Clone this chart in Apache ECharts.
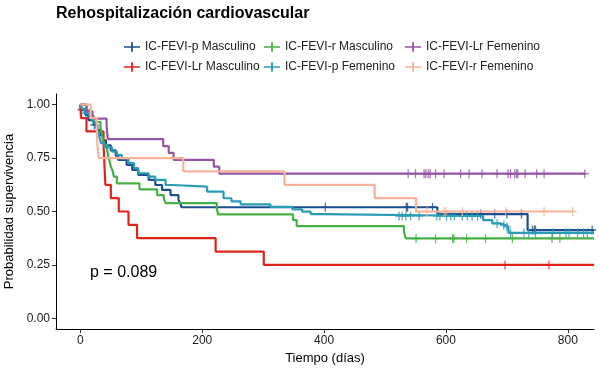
<!DOCTYPE html>
<html>
<head>
<meta charset="utf-8">
<script src="https://cdn.jsdelivr.net/npm/echarts@6/dist/echarts.min.js"></script>
<style>
html, body { margin: 0; padding: 0; background: #fff; }
#chart { width: 600px; height: 370px; }
</style>
</head>
<body>
<div id="chart"></div>
<script>
// curvas Kaplan-Meier: [tiempo (días), supervivencia]
var pMasc = [[0,1],[1,0.976],[8,0.952],[13,0.928],[22,0.905],[28,0.881],[33,0.857],[37,0.833],[42,0.81],[50,0.786],[58,0.762],[62,0.742],[76,0.718],[85,0.695],[95,0.671],[112,0.648],[123,0.624],[134,0.601],[148,0.577],[161,0.554],[164,0.538],[166,0.52],[586,0.488],[734,0.413],[843,0.413]];
var lrMasc = [[0,1],[1,0.9375],[10,0.875],[38,0.8125],[39,0.75],[40,0.6875],[41,0.625],[50,0.5625],[63,0.5],[79,0.4375],[93,0.375],[222,0.3125],[301,0.25],[843,0.25]];
var rMasc = [[0,1],[10,0.973],[18,0.946],[22,0.919],[33,0.892],[35,0.865],[37,0.838],[40,0.811],[44,0.784],[46,0.757],[48,0.734],[50,0.71],[53,0.69],[55,0.663],[60,0.632],[97,0.604],[126,0.577],[137,0.558],[140,0.539],[224,0.513],[226,0.487],[349,0.46],[355,0.432],[531,0.405],[534,0.374],[843,0.374]];
var pFem = [[0,1],[3,0.98],[7,0.96],[15,0.94],[20,0.92],[25,0.9],[28,0.88],[30,0.86],[32,0.84],[34,0.82],[40,0.8],[52,0.78],[60,0.765],[68,0.75],[79,0.726],[88,0.703],[95,0.679],[112,0.663],[123,0.648],[140,0.624],[151,0.616],[208,0.593],[235,0.562],[248,0.547],[263,0.533],[312,0.522],[348,0.51],[364,0.499],[378,0.488],[397,0.479],[661,0.46],[676,0.444],[690,0.436],[698,0.428],[702,0.414],[704,0.4],[843,0.4]];
var lrFem = [[0,1],[10,0.968],[20,0.935],[43,0.903],[44,0.871],[45,0.839],[136,0.806],[145,0.774],[153,0.742],[219,0.71],[228,0.677],[829,0.677]];
var rFem = [[0,1],[17,0.9375],[27,0.875],[28,0.8125],[30,0.75],[169,0.6875],[335,0.625],[483,0.5625],[551,0.5],[809,0.5]];

// censuras (días)
var cens_pMasc = [2,23,402,535,537,578,657,680,700,724,742,745,747,840];
var cens_lrMasc = [697,769];
var cens_rMasc = [551,583,611,613,634,665,709,774,787];
var cens_pFem = [9,523,528,534,542,556,585,590,601,608,614,627,635,643,652,684,695,700,706,728,736,747,775,797,802,816,826,832];
var cens_lrFem = [538,550,564,567,571,574,583,597,624,638,659,684,702,706,713,716,718,730,749,761,828];
var cens_rFem = [569,597,600,627,698,761,808];

var grupos = ['IC-FEVI-p Masculino','IC-FEVI-Lr Masculino','IC-FEVI-r Masculino','IC-FEVI-p Femenino','IC-FEVI-Lr Femenino','IC-FEVI-r Femenino'];
var colores = ['#1d4f8f','#e2231a','#46b045','#2a9bb5','#9455a6','#f8b29a'];
var curvas = [pMasc, lrMasc, rMasc, pFem, lrFem, rFem];
var censuras = [cens_pMasc, cens_lrMasc, cens_rMasc, cens_pFem, cens_lrFem, cens_rFem];

var xTicks = [0,200,400,600,800];
var yTicks = [0,0.25,0.5,0.75,1];

function survAt(km, t) {
	var s = 1;
	for (var i = 0; i < km.length; i++) {
		if (km[i][0] <= t) s = km[i][1];
	}
	return s;
}

var fuente = 'Liberation Sans, Arial, Helvetica, sans-serif';
var plusIcon = 'path://M0,3.9H16V5.6H0Z M7.1,0H8.9V9.5H7.1Z';
var plusMark = 'path://M4.2,0H5.8V10H4.2Z M0,4.2H10V5.8H0Z';

var series = [];
for (var i = 0; i < grupos.length; i++) {
	series.push({
		name: grupos[i],
		type: 'line',
		step: 'end',
		data: curvas[i],
		symbol: 'none',
		color: colores[i],
		lineStyle: { width: 2.2, color: colores[i] },
		z: 2 + i
	});
}
for (var i = 0; i < grupos.length; i++) {
	var pts = [];
	for (var j = 0; j < censuras[i].length; j++) {
		pts.push([censuras[i][j], survAt(curvas[i], censuras[i][j])]);
	}
	series.push({
		name: 'cens ' + grupos[i],
		type: 'scatter',
		data: pts,
		symbol: plusMark,
		symbolSize: [8, 9],
		itemStyle: { color: colores[i] },
		z: 2 + i,
		silent: true
	});
}

function leyenda(left, nombres) {
	return {
		left: left,
		top: 41,
		padding: 0,
		orient: 'vertical',
		itemWidth: 16,
		itemHeight: 10,
		itemGap: 8,
		icon: plusIcon,
		data: nombres,
		textStyle: { fontFamily: fuente, fontSize: 12, color: '#222' }
	};
}

var chart = echarts.init(document.getElementById('chart'));

option = {
	animation: false,
	title: {
		text: 'Rehospitalización cardiovascular',
		left: 56,
		top: 6,
		padding: 0,
		textStyle: { fontFamily: fuente, fontSize: 16, fontWeight: 'bold', color: '#000' }
	},
	legend: [
		leyenda(124, [grupos[0], grupos[1]]),
		leyenda(264, [grupos[2], grupos[3]]),
		leyenda(405, [grupos[4], grupos[5]])
	],
	grid: {
		left: 56,
		right: 6,
		top: 94,
		bottom: 41,
		outerBoundsMode: 'none'
	},
	xAxis: {
		type: 'value',
		min: -40,
		max: 843,
		name: 'Tiempo (días)',
		nameLocation: 'middle',
		nameGap: 22,
		nameTextStyle: { fontFamily: fuente, fontSize: 13, color: '#000' },
		axisLine: { show: true, onZero: false, lineStyle: { color: '#000', width: 1 } },
		axisTick: { show: true, length: 4, customValues: xTicks, lineStyle: { color: '#333' } },
		axisLabel: { customValues: xTicks, margin: 6, fontFamily: fuente, fontSize: 12, color: '#1a1a1a' },
		splitLine: { show: false }
	},
	yAxis: {
		type: 'value',
		min: -0.05,
		max: 1.05,
		name: 'Probabilidad supervivencia',
		nameLocation: 'middle',
		nameGap: 36,
		nameTextStyle: { fontFamily: fuente, fontSize: 13, color: '#000' },
		axisLine: { show: true, onZero: false, lineStyle: { color: '#000', width: 1 } },
		axisTick: { show: true, length: 4, customValues: yTicks, lineStyle: { color: '#333' } },
		axisLabel: {
			customValues: yTicks,
			margin: 6,
			fontFamily: fuente,
			fontSize: 12,
			color: '#1a1a1a',
			formatter: function (v) { return v.toFixed(2); }
		},
		splitLine: { show: false }
	},
	graphic: [{
		type: 'text',
		left: 90,
		top: 265,
		style: { text: 'p = 0.089', font: '16px ' + fuente, fill: '#000' }
	}],
	series: series
};

chart.setOption(option);
</script>
</body>
</html>
